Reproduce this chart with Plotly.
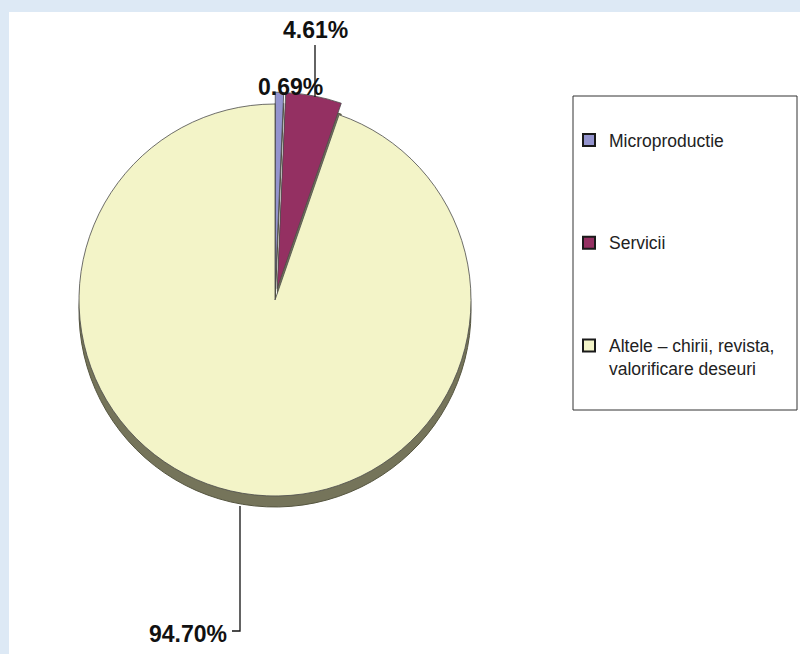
import plotly.graph_objects as go

labels = ["Microproductie", "Servicii", "Altele – chirii, revista,<br>valorificare deseuri"]
values = [0.69, 4.61, 94.70]
colors = ["#9494CE", "#943062", "#F3F4C8"]
depth_color = "#75745A"
pulls = [0.06, 0.06, 0.0]

W, H = 800, 654
cx, cy, r = 275, 300, 196
half = r * 1.06

def px_x(v):
    return v / W

def px_y(v):
    return 1 - v / H

dom_x = [px_x(cx - half), px_x(cx + half)]
dom_y = [px_y(cy + half), px_y(cy - half)]
shift = 11 / H

fig = go.Figure()

# depth (3D side) pie
fig.add_trace(go.Pie(
    labels=labels, values=values, sort=False, direction="clockwise", rotation=0,
    pull=pulls, marker=dict(colors=[depth_color] * 3, line=dict(color="#55553f", width=1)),
    textinfo="none", hoverinfo="skip", showlegend=False,
    domain=dict(x=dom_x, y=[dom_y[0] - shift, dom_y[1] - shift]),
))
# top pie
fig.add_trace(go.Pie(
    labels=labels, values=values, sort=False, direction="clockwise", rotation=0,
    pull=pulls, marker=dict(colors=colors, line=dict(color="#4a4a4a", width=0.8)),
    textinfo="none", showlegend=False,
    domain=dict(x=dom_x, y=dom_y),
))

# legend entries
for lab, col in zip(labels, colors):
    fig.add_trace(go.Scatter(
        x=[None], y=[None], mode="markers", name=lab, legendgroup=lab,
        marker=dict(symbol="square", size=9, color=col, line=dict(color="#1a1a1a", width=1.6)),
    ))

fmt = [f"{v:.2f}%" for v in values]
font_lbl = dict(family="Liberation Sans, Arial", size=23, color="#111111")

annotations = [
    dict(x=px_x(315), y=px_y(97), xref="paper", yref="paper", text="<b>%s</b>" % fmt[1],
         showarrow=True, arrowhead=0, arrowwidth=1.3, arrowcolor="#111111",
         ax=0, ay=-52, font=font_lbl, yanchor="bottom"),
    dict(x=px_x(290), y=px_y(87), xref="paper", yref="paper", text="<b>%s</b>" % fmt[0],
         showarrow=False, font=font_lbl, yanchor="middle"),
    dict(x=px_x(229), y=px_y(634), xref="paper", yref="paper", text="<b>%s</b>" % fmt[2],
         showarrow=False, font=font_lbl, xanchor="right", yanchor="middle"),
]

shapes = [
    dict(type="rect", xref="paper", yref="paper", x0=px_x(9), x1=1.01, y0=-0.01, y1=px_y(12),
         fillcolor="white", line=dict(width=0), layer="below"),
    dict(type="rect", xref="paper", yref="paper", x0=px_x(573), x1=px_x(797), y0=px_y(410), y1=px_y(96),
         fillcolor="rgba(0,0,0,0)", line=dict(color="#333333", width=1)),
    dict(type="path", xref="paper", yref="paper",
         path=f"M {px_x(240)},{px_y(506)} L {px_x(240)},{px_y(631)} L {px_x(232)},{px_y(631)}",
         line=dict(color="#111111", width=1.3)),
]

fig.update_layout(
    width=W, height=H,
    margin=dict(l=0, r=0, t=0, b=0),
    paper_bgcolor="#dde9f5",
    plot_bgcolor="rgba(0,0,0,0)",
    xaxis=dict(visible=False, domain=[0.99, 1]),
    yaxis=dict(visible=False, domain=[0.99, 1]),
    annotations=annotations,
    shapes=shapes,
    legend=dict(x=px_x(569), y=px_y(122), xanchor="left", yanchor="top",
                bgcolor="rgba(0,0,0,0)", borderwidth=0, tracegroupgap=77,
                valign="top", itemsizing="constant",
                font=dict(family="Liberation Sans, Arial", size=17.5, color="#222222")),
    showlegend=True,
)

fig.write_html("out.html", config={"displayModeBar": False},
               post_script="document.body.style.margin='0px';")
